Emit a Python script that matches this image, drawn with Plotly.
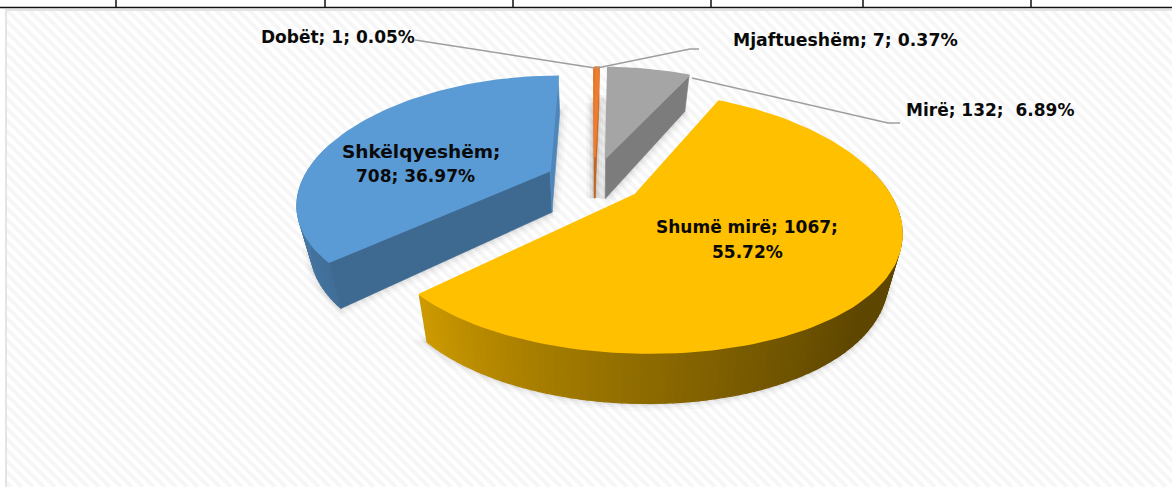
import math
import plotly.graph_objects as go

# ---- data ----
names = ["Dobët", "Mjaftueshëm", "Mirë", "Shumë mirë", "Shkëlqyeshëm"]
counts = [1, 7, 132, 1067, 708]
percent_text = ["0.05%", "0.37%", "6.89%", "55.72%", "36.97%"]
top_colors = ["#ED7D31", "#ED7D31", "#A5A5A5", "#FFC000", "#5B9BD5"]
# radial-face colours (face at slice start, face at slice end); None = hidden face
face_colors = [("#C4651F", "#C4651F"), ("#C4651F", "#C4651F"), (None, "#7C7C7C"),
               (None, None), ("#3E6990", "#4F86BA")]
divider_x = [116, 325, 513, 711, 863, 1031]

W, H = 1172, 487
START = -0.2
EXPLODE = 0.2
CX, CY = 594.5, 180
SX, SY = 247, 118
K = 0.212
KX = 0.25
DEPTH = 42
CONV = 0.955


def ground(theta_deg, r, bis):
    t, b = math.radians(theta_deg), math.radians(bis)
    return (EXPLODE * math.sin(b) + r * math.sin(t), EXPLODE * math.cos(b) + r * math.cos(t))


def top_pt(x, z):
    return CX + SX * x / (1 + KX * z), CY - SY * z / (1 + K * z)


def bot_pt(x, z):
    px, py = top_pt(x, z)
    return CX + (px - CX) * CONV, py + DEPTH / (1 + 0.15 * z)


def poly(pts, color, line=None, width=0, fill=True, seam=0.6):
    xs = [p[0] for p in pts] + [pts[0][0]]
    ys = [p[1] for p in pts] + [pts[0][1]]
    return go.Scatter(
        x=xs, y=ys, mode="lines", hoverinfo="skip", showlegend=False,
        fill="toself" if fill else "none", fillcolor=color,
        line=dict(color=line or color, width=width if line else seam),
    )


def mix(hexc, f):
    r, g, b = int(hexc[1:3], 16), int(hexc[3:5], 16), int(hexc[5:7], 16)
    return "rgb(%d,%d,%d)" % (r * f, g * f, b * f)


fig = go.Figure()

# background: diagonal hatch
hx, hy = [], []
for c in range(-H, W + H, 11):
    hx += [c, c + H, None]
    hy += [0, H, None]
fig.add_trace(go.Scatter(x=hx, y=hy, mode="lines", hoverinfo="skip", showlegend=False,
                         line=dict(color="#F6F6F6", width=4)))

# slices
total = sum(counts)
spans, a = [], START
for v in counts:
    spans.append((a, a + v / total * 360))
    a += v / total * 360

slices = []
for i, (a0, a1) in enumerate(spans):
    bis = (a0 + a1) / 2
    n = max(2, int((a1 - a0) / 1.5))
    arc = [ground(a0 + (a1 - a0) * j / n, 1, bis) for j in range(n + 1)]
    apex = ground(bis, 0, bis)
    slices.append(dict(i=i, a0=a0, a1=a1, arc=arc, apex=apex, n=n))

# soft shadows below the slices
for s in slices:
    base = [bot_pt(*s["apex"])] + [bot_pt(*p) for p in s["arc"]]
    for w, al in ((16, 0.018), (10, 0.03), (5, 0.045)):
        fig.add_trace(poly(base, "rgba(0,0,0,0)", line="rgba(0,0,0,%.3f)" % al, width=w, fill=False))


def arc_shade(i, theta):
    if i == 3:  # yellow rim darkens away from the left corner
        t = (theta - 135) / 90
        f = 0.37 + 0.43 * max(0, min(1, t)) ** 1.2
        return mix("#FFC000", f)
    return mix("#5B9BD5", 0.72 + 0.16 * max(0, min(1, (theta - 228) / 70)))


for i in (2, 1, 0, 4, 3):
    s = slices[i]
    arc, apex = s["arc"], s["apex"]
    # rim: only the part turned towards the viewer
    if i >= 3:
        for j in range(s["n"]):
            th = s["a0"] + (s["a1"] - s["a0"]) * (j + 0.5) / s["n"]
            if math.cos(math.radians(th)) > 0.2:
                continue
            q = [top_pt(*arc[j]), top_pt(*arc[j + 1]), bot_pt(*arc[j + 1]), bot_pt(*arc[j])]
            fig.add_trace(poly(q, arc_shade(i, th), seam=1.2))
    # radial faces
    for end, col in ((arc[0], face_colors[i][0]), (arc[-1], face_colors[i][1])):
        if col:
            q = [top_pt(*apex), top_pt(*end), bot_pt(*end), bot_pt(*apex)]
            fig.add_trace(poly(q, col))
    # top
    fig.add_trace(poly([top_pt(*apex)] + [top_pt(*p) for p in arc], top_colors[i], seam=1.6))

# leader lines
leaders = [
    ([415, 595], [40, 68]),
    ([597, 690, 699], [68, 49, 49]),
    ([692, 888, 900], [78, 123, 123]),
]
for lx, ly in leaders:
    fig.add_trace(go.Scatter(x=lx, y=ly, mode="lines", hoverinfo="skip", showlegend=False,
                             line=dict(color="#9E9E9E", width=1.4)))

FONT = dict(family="DejaVu Sans", size=17, color="#0A0A0A")
labels = [
    (338, 37, f"<b>{names[0]}; {counts[0]}; {percent_text[0]}</b>", 17),
    (845, 40, f"<b>{names[1]}; {counts[1]}; {percent_text[1]}</b>", 17.3),
    (990, 110, f"<b>{names[2]}; {counts[2]};  {percent_text[2]}</b>", 17),
    (747, 227, f"<b>{names[3]}; {counts[3]};</b>", 17),
    (747, 252, f"<b>{percent_text[3]}</b>", 17),
    (421, 151, f"<b>{names[4]};</b>", 18.5),
    (415, 176, f"<b>{counts[4]}; {percent_text[4]}</b>", 17),
]
annotations = [dict(x=x, y=y, text=t, showarrow=False, xanchor="center", yanchor="middle",
                    font=dict(FONT, size=sz), align="center") for x, y, t, sz in labels]

shapes = [
    dict(type="rect", x0=0, x1=W, y0=0, y1=10, fillcolor="white", line_width=0, layer="above"),
    dict(type="rect", x0=0, x1=5, y0=0, y1=H, fillcolor="white", line_width=0, layer="above"),
    dict(type="rect", x0=5, x1=W, y0=9, y1=11, fillcolor="#E4E4E4", line_width=0, layer="above"),
    dict(type="rect", x0=5, x1=7, y0=9, y1=H, fillcolor="#E4E4E4", line_width=0, layer="above"),
    dict(type="line", x0=0, x1=W, y0=7.5, y1=7.5, line=dict(color="#111111", width=1.5), layer="above"),
]
for dx in divider_x:
    shapes.append(dict(type="line", x0=dx, x1=dx, y0=0, y1=7.5,
                       line=dict(color="#111111", width=1.5), layer="above"))

fig.update_layout(
    width=W, height=H, margin=dict(l=0, r=0, t=0, b=0),
    paper_bgcolor="white", plot_bgcolor="white", showlegend=False,
    xaxis=dict(range=[0, W], visible=False, fixedrange=True),
    yaxis=dict(range=[H, 0], visible=False, fixedrange=True),
    annotations=annotations, shapes=shapes,
)
fig.write_html("out.html", config={"displayModeBar": False},
               post_script="document.body.style.margin='0';document.body.style.overflow='hidden';")
